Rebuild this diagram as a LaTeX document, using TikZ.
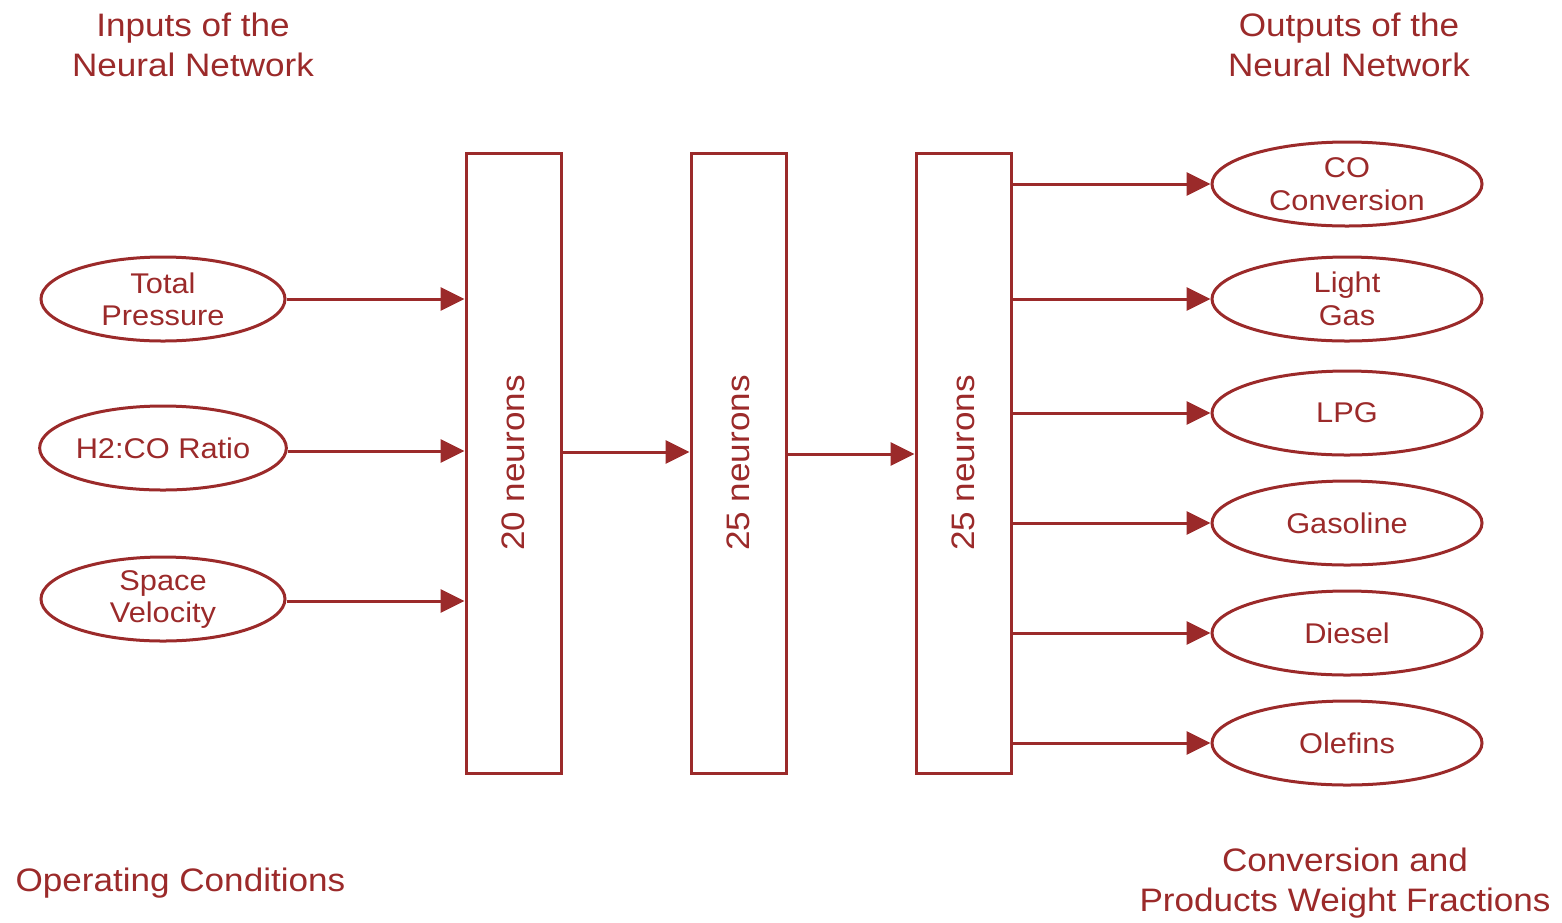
\documentclass[tikz,border=0pt]{standalone}
\usepackage{fontspec}
\setmainfont{Liberation Sans}[FakeStretch=1.08]
\usetikzlibrary{arrows.meta,shapes.geometric}
\definecolor{nnred}{HTML}{9B2A2A}
\begin{document}
\begin{tikzpicture}[x=1pt,y=-1pt,
  every node/.style={text=nnred},
  inell/.style={ellipse,draw=nnred,line width=3pt,minimum width=244pt,minimum height=84pt,inner sep=0pt,align=center,font=\fontsize{28.5}{32}\selectfont},
  outell/.style={ellipse,draw=nnred,line width=3pt,minimum width=270pt,minimum height=84pt,inner sep=0pt,align=center,font=\fontsize{28.5}{33}\selectfont},
  layerbox/.style={draw=nnred,line width=3pt,minimum width=95pt,minimum height=620pt,inner sep=0pt},
  layertext/.style={rotate=90,font=\fontsize{32.5}{36}\selectfont},
  caption/.style={align=center,font=\fontsize{32.5}{40}\selectfont},
  conn/.style={draw=nnred,line width=3pt,-{Triangle[length=24pt,width=23pt]}}
]
\useasboundingbox (0,0) rectangle (1562,922);
% captions
\node[caption] (inCap) at (193,45) {Inputs of the\\Neural Network};
\node[caption] (outCap) at (1349,45) {Outputs of the\\Neural Network};
\node[caption,anchor=west] (opCap) at (12,883) {Operating Conditions};
\node[caption] (prodCap) at (1345,883) {Conversion and\\Products Weight Fractions};
% inputs
\node[inell] (tp) at (163,299) {Total\\Pressure};
\node[inell] (hr) at (163,448) {H2:CO Ratio};
\node[inell] (sv) at (163,599) {Space\\Velocity};
% layers
\node[layerbox] (l1) at (513.5,463) {};
\node[layertext] at (l1.center) {20 neurons};
\node[layerbox] (l2) at (738.5,463) {};
\node[layertext] at (l2.center) {25 neurons};
\node[layerbox] (l3) at (963.5,463) {};
\node[layertext] at (l3.center) {25 neurons};
% outputs
\node[outell] (co) at (1347,184) {CO\\Conversion};
\node[outell] (lg) at (1347,299) {Light\\Gas};
\node[outell] (lpg) at (1347,413) {LPG};
\node[outell] (gas) at (1347,523) {Gasoline};
\node[outell] (die) at (1347,633) {Diesel};
\node[outell] (ole) at (1347,743) {Olefins};
% connectors
\draw[conn] (tp.east) -- (tp.east -| l1.west);
\draw[conn] (hr.east |- 0,451) -- (l1.west |- 0,451);
\draw[conn] (sv.east |- 0,601) -- (l1.west |- 0,601);
\draw[conn] (l1.east |- 0,452) -- (l2.west |- 0,452);
\draw[conn] (l2.east |- 0,454) -- (l3.west |- 0,454);
\foreach \n in {co,lg,lpg,gas,die,ole}{
  \draw[conn] (l3.east |- \n.west) -- (\n.west);
}
\end{tikzpicture}
\end{document}
